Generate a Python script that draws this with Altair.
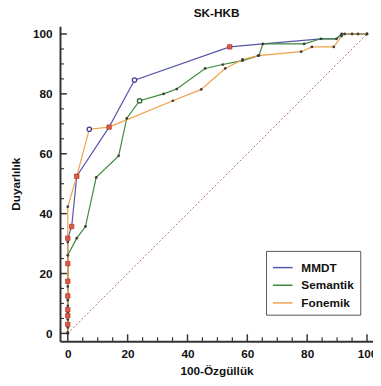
import altair as alt
import pandas as pd

series_names = ["MMDT", "Semantik", "Fonemik"]
series_colors = ["#5656a8", "#3a8a3a", "#f0a048"]

low_y = [0.3, 2.0, 3.0, 4.6, 5.9, 6.9, 7.9, 9.2, 11.1, 12.5, 15.7, 17.4, 23.3]

mmdt_x = [0, 0, 0, 1.3, 3.0, 13.8, 22.3, 54.1, 65.2, 84.6, 89.8, 91.5, 100]
mmdt_y = [0, 23.3, 31.8, 35.7, 52.5, 68.9, 84.6, 95.7, 96.7, 98.4, 98.4, 100, 100]

sem_x = [0, 0, 3.0, 5.9, 9.5, 17.0, 19.7, 24.0, 32.0, 36.4, 45.9, 51.8, 58.4, 63.9, 65.2, 79.0, 84.6, 89.8, 91.5, 100]
sem_y = [0, 26.1, 31.8, 35.7, 52.1, 59.3, 71.8, 77.7, 80.0, 81.6, 88.5, 89.8, 91.1, 92.8, 96.7, 96.7, 98.4, 98.4, 100, 100]

fon_x = [0, 0, 0, 3.0, 7.2, 13.8, 35.1, 44.6, 52.6, 58.4, 63.6, 78.0, 81.6, 88.9, 91.5, 92.5, 95.0, 97.0, 100]
fon_y = [0, 30.5, 42.3, 52.5, 68.2, 68.9, 77.7, 81.5, 88.5, 91.5, 92.8, 94.1, 95.7, 95.7, 99.3, 100, 100, 100, 100]

square_x = [0, 0, 0, 0, 0, 0, 0, 1.3, 3.0, 13.8, 54.1]
square_y = [3.0, 5.9, 7.9, 12.5, 17.4, 23.3, 31.8, 35.7, 52.5, 68.9, 95.7]

circle_x = [22.3, 24.0, 7.2]
circle_y = [84.6, 77.7, 68.2]
circle_series = ["MMDT", "Semantik", "Fonemik"]

x_major = [0, 20, 40, 60, 80, 100]
y_major = [0, 20, 40, 60, 80, 100]
x_minor = [5, 10, 15, 25, 30, 35, 45, 50, 55, 65, 70, 75, 85, 90, 95]
y_minor = [5, 10, 15, 25, 30, 35, 45, 50, 55, 65, 70, 75, 85, 90, 95]

rows = []
for name, xs, ys in [("MMDT", mmdt_x, mmdt_y), ("Semantik", sem_x, sem_y), ("Fonemik", fon_x, fon_y)]:
    for i, (a, b) in enumerate(zip(xs, ys)):
        rows.append({"series": name, "x": a, "y": b, "order": i})
lines_df = pd.DataFrame(rows)

dots_df = pd.DataFrame(
    [{"x": a, "y": b} for a, b in zip(sem_x + fon_x, sem_y + fon_y)]
    + [{"x": 0, "y": v} for v in low_y]
)
sq_df = pd.DataFrame({"x": square_x, "y": square_y})
circ_df = pd.DataFrame({"x": circle_x, "y": circle_y, "series": circle_series})
diag_df = pd.DataFrame({"x": [0, 100], "y": [0, 100]})

W, H = 319, 321
xs = alt.Scale(domain=[-2.6, 102.0], nice=False, zero=False)
ys = alt.Scale(domain=[-2.6, 102.6], nice=False, zero=False)
FONT = "Liberation Sans"

color = alt.Color(
    "series:N",
    scale=alt.Scale(domain=series_names, range=series_colors),
    sort=series_names,
    legend=alt.Legend(
        title=None, orient="none", legendX=210, legendY=229,
        symbolType="stroke", symbolSize=400, symbolStrokeWidth=1.5,
        labelFont=FONT, labelFontSize=12, labelFontWeight="bold", labelColor="#111",
        strokeColor="#555", fillColor="white", padding=6, rowPadding=1, labelOffset=8,
    ),
)

x_enc = alt.X("x:Q", scale=xs, axis=alt.Axis(
    values=x_major, ticks=False, grid=False, title="100-Özgüllük",
    domainColor="#333", domainWidth=2, labelPadding=8,
    labelFont=FONT, labelFontSize=12, labelFontWeight="bold", labelColor="#111",
    titleFont=FONT, titleFontSize=12, titleFontWeight="bold", titleColor="#111", titlePadding=6,
))
y_enc = alt.Y("y:Q", scale=ys, axis=alt.Axis(
    values=y_major, ticks=False, grid=False, title="Duyarlılık",
    domainColor="#333", domainWidth=2, labelPadding=8,
    labelFont=FONT, labelFontSize=12, labelFontWeight="bold", labelColor="#111",
    titleFont=FONT, titleFontSize=12, titleFontWeight="bold", titleColor="#111", titlePadding=10,
))

diag = alt.Chart(diag_df).mark_line(color="#b06a80", strokeWidth=1, strokeDash=[2, 2]).encode(x=x_enc, y=y_enc)

lines = alt.Chart(lines_df).mark_line(strokeWidth=1.2).encode(
    x=alt.X("x:Q", scale=xs), y=alt.Y("y:Q", scale=ys), color=color, order="order:Q", detail="series:N"
)

dots = alt.Chart(dots_df).mark_point(shape="circle", filled=True, size=8, color="#333", opacity=0.9).encode(
    x=alt.X("x:Q", scale=xs), y=alt.Y("y:Q", scale=ys)
)

squares = alt.Chart(sq_df).mark_point(shape="square", filled=True, size=20, color="#e05848",
                                      stroke="#b04030", strokeWidth=0.8, opacity=1).encode(
    x=alt.X("x:Q", scale=xs), y=alt.Y("y:Q", scale=ys)
)

circles = alt.Chart(circ_df).mark_point(shape="circle", filled=True, size=20, fill="white", strokeWidth=1.3, opacity=1).encode(
    x=alt.X("x:Q", scale=xs), y=alt.Y("y:Q", scale=ys),
    stroke=alt.Stroke("series:N", scale=alt.Scale(domain=series_names, range=["#4a3a8a", "#2a5a2a", "#4a3a8a"]), legend=None),
)

xmaj = alt.Chart(pd.DataFrame({"x": x_major})).mark_rule(color="#333", strokeWidth=1.5).encode(
    x=alt.X("x:Q", scale=xs), y=alt.value(H), y2=alt.value(H - 7))
xmin = alt.Chart(pd.DataFrame({"x": x_minor})).mark_rule(color="#333", strokeWidth=1.2).encode(
    x=alt.X("x:Q", scale=xs), y=alt.value(H), y2=alt.value(H - 4))
ymaj = alt.Chart(pd.DataFrame({"y": y_major})).mark_rule(color="#333", strokeWidth=1.5).encode(
    y=alt.Y("y:Q", scale=ys), x=alt.value(0), x2=alt.value(7))
ymin = alt.Chart(pd.DataFrame({"y": y_minor})).mark_rule(color="#333", strokeWidth=1.2).encode(
    y=alt.Y("y:Q", scale=ys), x=alt.value(0), x2=alt.value(4))

chart = alt.layer(diag, lines, dots, squares, circles, xmaj, xmin, ymaj, ymin).properties(
    width=W, height=H,
    title=alt.TitleParams("SK-HKB", font=FONT, fontSize=12, fontWeight="bold", color="#111", anchor="middle", offset=6),
    autosize=alt.AutoSizeParams(type="none"),
    padding={"left": 53, "top": 15, "right": 0, "bottom": 36},
).configure_view(stroke=None).resolve_scale(color="independent", stroke="independent")

chart.save("out.html", embed_options={"renderer": "svg", "actions": False})
